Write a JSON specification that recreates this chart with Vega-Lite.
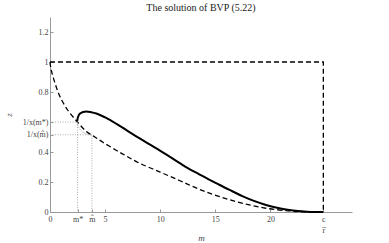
{
  "$schema": "https://vega.github.io/schema/vega-lite/v6.json",
  "width": 302,
  "height": 195,
  "autosize": {"type": "none"},
  "padding": {"left": 50, "top": 17, "right": 37, "bottom": 31},
  "background": "white",
  "title": {"text": "The solution of BVP (5.22)", "font": "Liberation Serif", "fontSize": 10, "fontWeight": "normal", "color": "#222", "offset": 4},
  "config": {
    "view": {"stroke": null},
    "axis": {"grid": false, "domainColor": "#999", "tickColor": "#999", "labelFont": "Liberation Serif", "labelFontSize": 8, "labelColor": "#444", "titleFont": "Liberation Serif", "titleFontStyle": "italic", "titleFontWeight": "normal", "titleFontSize": 9, "titleColor": "#444", "tickSize": -3}
  },
  "data": {"values": [
    {"s": "guide", "g": "a", "o": 1, "m": 0, "z": 0.6},
    {"s": "guide", "g": "a", "o": 2, "m": 2.5, "z": 0.6},
    {"s": "guide", "g": "a", "o": 3, "m": 2.5, "z": 0},
    {"s": "guide", "g": "b", "o": 1, "m": 0, "z": 0.515},
    {"s": "guide", "g": "b", "o": 2, "m": 3.8, "z": 0.515},
    {"s": "guide", "g": "b", "o": 3, "m": 3.8, "z": 0},
    {"s": "box", "g": "c", "o": 1, "m": 0, "z": 1},
    {"s": "box", "g": "c", "o": 2, "m": 24.8, "z": 1},
    {"s": "box", "g": "c", "o": 3, "m": 24.8, "z": 0},
    {"s": "dash", "g": "d", "o": 1, "m": 0, "z": 1},
    {"s": "dash", "g": "d", "o": 2, "m": 0.1, "z": 0.95},
    {"s": "dash", "g": "d", "o": 3, "m": 0.45, "z": 0.86},
    {"s": "dash", "g": "d", "o": 4, "m": 0.9, "z": 0.77},
    {"s": "dash", "g": "d", "o": 5, "m": 1.6, "z": 0.68},
    {"s": "dash", "g": "d", "o": 6, "m": 2.47, "z": 0.602},
    {"s": "dash", "g": "d", "o": 7, "m": 3.3, "z": 0.537},
    {"s": "dash", "g": "d", "o": 8, "m": 4.07, "z": 0.5},
    {"s": "dash", "g": "d", "o": 9, "m": 4.8, "z": 0.465},
    {"s": "dash", "g": "d", "o": 10, "m": 6, "z": 0.412},
    {"s": "dash", "g": "d", "o": 11, "m": 7, "z": 0.37},
    {"s": "dash", "g": "d", "o": 12, "m": 8.1, "z": 0.326},
    {"s": "dash", "g": "d", "o": 13, "m": 9.94, "z": 0.268},
    {"s": "dash", "g": "d", "o": 14, "m": 11.74, "z": 0.21},
    {"s": "dash", "g": "d", "o": 15, "m": 13.5, "z": 0.153},
    {"s": "dash", "g": "d", "o": 16, "m": 15.4, "z": 0.102},
    {"s": "dash", "g": "d", "o": 17, "m": 17.5, "z": 0.058},
    {"s": "dash", "g": "d", "o": 18, "m": 19.6, "z": 0.025},
    {"s": "dash", "g": "d", "o": 19, "m": 21.7, "z": 0.007},
    {"s": "dash", "g": "d", "o": 20, "m": 22.8, "z": 0.001},
    {"s": "dash", "g": "d", "o": 21, "m": 24.8, "z": 0},
    {"s": "lower", "g": "e", "o": 1, "m": 3.8, "z": 0.515},
    {"s": "lower", "g": "e", "o": 2, "m": 3.3, "z": 0.52},
    {"s": "lower", "g": "e", "o": 3, "m": 2.9, "z": 0.538},
    {"s": "lower", "g": "e", "o": 4, "m": 2.6, "z": 0.565},
    {"s": "lower", "g": "e", "o": 5, "m": 2.48, "z": 0.59},
    {"s": "lower", "g": "e", "o": 6, "m": 2.47, "z": 0.607},
    {"s": "solid", "g": "f", "o": 1, "m": 2.47, "z": 0.607},
    {"s": "solid", "g": "f", "o": 2, "m": 2.55, "z": 0.635},
    {"s": "solid", "g": "f", "o": 3, "m": 2.7, "z": 0.655},
    {"s": "solid", "g": "f", "o": 4, "m": 3.0, "z": 0.667},
    {"s": "solid", "g": "f", "o": 5, "m": 3.3, "z": 0.67},
    {"s": "solid", "g": "f", "o": 6, "m": 3.7, "z": 0.666},
    {"s": "solid", "g": "f", "o": 7, "m": 4.2, "z": 0.657},
    {"s": "solid", "g": "f", "o": 8, "m": 5.1, "z": 0.627},
    {"s": "solid", "g": "f", "o": 9, "m": 6, "z": 0.589},
    {"s": "solid", "g": "f", "o": 10, "m": 7, "z": 0.543},
    {"s": "solid", "g": "f", "o": 11, "m": 8.1, "z": 0.492},
    {"s": "solid", "g": "f", "o": 12, "m": 9, "z": 0.452},
    {"s": "solid", "g": "f", "o": 13, "m": 9.94, "z": 0.411},
    {"s": "solid", "g": "f", "o": 14, "m": 11, "z": 0.362},
    {"s": "solid", "g": "f", "o": 15, "m": 11.74, "z": 0.327},
    {"s": "solid", "g": "f", "o": 16, "m": 12.5, "z": 0.292},
    {"s": "solid", "g": "f", "o": 17, "m": 13.5, "z": 0.253},
    {"s": "solid", "g": "f", "o": 18, "m": 14.4, "z": 0.218},
    {"s": "solid", "g": "f", "o": 19, "m": 15.4, "z": 0.18},
    {"s": "solid", "g": "f", "o": 20, "m": 16.5, "z": 0.14},
    {"s": "solid", "g": "f", "o": 21, "m": 17.5, "z": 0.104},
    {"s": "solid", "g": "f", "o": 22, "m": 18.5, "z": 0.074},
    {"s": "solid", "g": "f", "o": 23, "m": 19.6, "z": 0.047},
    {"s": "solid", "g": "f", "o": 24, "m": 20.6, "z": 0.028},
    {"s": "solid", "g": "f", "o": 25, "m": 21.7, "z": 0.013},
    {"s": "solid", "g": "f", "o": 26, "m": 22.5, "z": 0.006},
    {"s": "solid", "g": "f", "o": 27, "m": 23.3, "z": 0.002},
    {"s": "solid", "g": "f", "o": 28, "m": 24, "z": 0},
    {"s": "solid", "g": "f", "o": 29, "m": 24.8, "z": 0}
  ]},
  "encoding": {
    "x": {"field": "m", "type": "quantitative", "scale": {"domain": [0, 27.4], "nice": false, "zero": false},
      "axis": {"title": "m", "values": [0, 2.5, 3.8, 5, 10, 15, 20, 24.8], "labelExpr": "datum.value == 2.5 ? 'm*' : datum.value == 3.8 ? 'm̂' : datum.value == 24.8 ? ['c', 'r̅'] : datum.label", "labelLineHeight": 11, "labelPadding": 6, "titleBaseline": "middle", "titleY": 25, "labelFlush": false}},
    "y": {"field": "z", "type": "quantitative", "scale": {"domain": [0, 1.3], "nice": false},
      "axis": {"title": "z", "format": "~g", "values": [0, 0.2, 0.4, 0.515, 0.6, 0.8, 1, 1.2], "labelExpr": "datum.value == 0.6 ? '1/x(m*)' : datum.value == 0.515 ? '1/x(m̂)' : datum.label", "labelPadding": 5, "titleX": -42, "titleBaseline": "middle", "labelFlush": false}},
    "order": {"field": "o", "type": "quantitative"},
    "detail": {"field": "g"}
  },
  "layer": [
    {"transform": [{"filter": "datum.s == 'guide'"}], "mark": {"type": "line", "color": "#999", "strokeWidth": 0.8, "strokeDash": [1, 1.5]}},
    {"transform": [{"filter": "datum.s == 'box'"}], "mark": {"type": "line", "color": "black", "strokeWidth": 1.3, "strokeDash": [5, 3]}},
    {"transform": [{"filter": "datum.s == 'dash'"}], "mark": {"type": "line", "color": "black", "strokeWidth": 1.3, "strokeDash": [5, 3], "interpolate": "catmull-rom"}},
    {"transform": [{"filter": "datum.s == 'lower'"}], "mark": {"type": "line", "color": "#aaa", "strokeWidth": 0.9, "strokeDash": [1.5, 1], "interpolate": "catmull-rom"}},
    {"transform": [{"filter": "datum.s == 'solid'"}], "mark": {"type": "line", "color": "black", "strokeWidth": 2, "interpolate": "catmull-rom"}}
  ]
}
